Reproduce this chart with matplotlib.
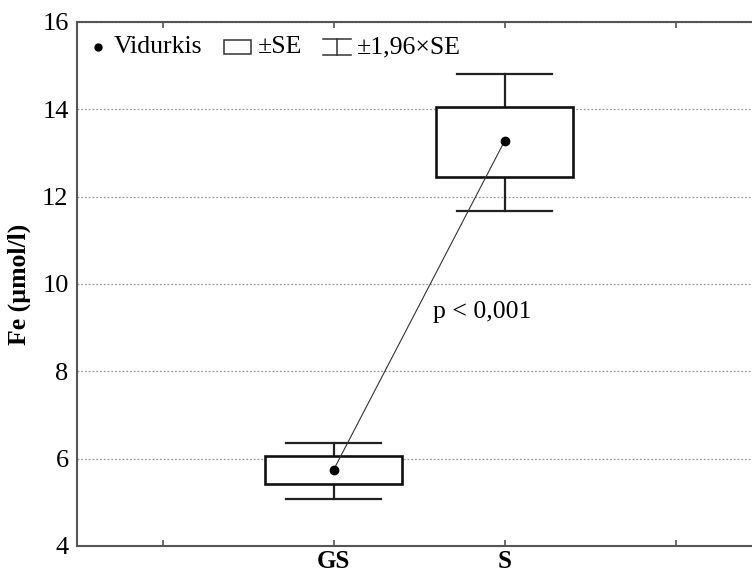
import matplotlib
matplotlib.use("Agg")
import matplotlib.pyplot as plt
from matplotlib.patches import Rectangle
from matplotlib.lines import Line2D

plt.rcParams["font.family"] = ["Liberation Serif", "DejaVu Serif"]

# group values (Fe, umol/l)
groups = ["GS", "S"]
means = [5.74, 13.27]
se_low = [5.42, 12.44]
se_high = [6.06, 14.05]
ci_low = [5.08, 11.67]
ci_high = [6.37, 14.82]
p_label = "p < 0,001"

fig = plt.figure(figsize=(7.52, 5.74), dpi=100)
ax = fig.add_axes([77 / 752, 28 / 574, 684 / 752, 524 / 574])

pos = [1, 2]
box_w = 0.8
cap_w = 0.56
for x, m, lo, hi, clo, chi in zip(pos, means, se_low, se_high, ci_low, ci_high):
    ax.plot([x, x], [hi, chi], color="#222222", lw=1.6, zorder=3)
    ax.plot([x, x], [clo, lo], color="#222222", lw=1.6, zorder=3)
    ax.plot([x - cap_w / 2, x + cap_w / 2], [chi, chi], color="#222222", lw=1.6, zorder=3)
    ax.plot([x - cap_w / 2, x + cap_w / 2], [clo, clo], color="#222222", lw=1.6, zorder=3)
    ax.add_patch(Rectangle((x - box_w / 2, lo), box_w, hi - lo, facecolor="white",
                           edgecolor="#111111", lw=1.9, zorder=4))

ax.plot(pos, means, color="#333333", lw=0.8, zorder=5)
ax.plot(pos, means, "o", color="black", ms=6, zorder=6)
ax.text(1.58, 9.35, p_label, fontsize=18.5, ha="left", va="center", zorder=7)

ax.set_xlim(-0.5, 3.5)
ax.set_ylim(4, 16)
ax.set_xticks([0, 1, 2, 3])
ax.set_xticklabels(["", "GS", "S", ""], fontsize=18, fontweight="bold")
ax.set_yticks(range(4, 17, 2))
ax.tick_params(axis="y", labelsize=19, direction="in", length=0, pad=6)
ax.tick_params(axis="x", direction="in", top=True, length=4, width=1.2,
               color="#555555", pad=3)
ax.yaxis.grid(True, linestyle=(0, (1.5, 1.5)), color="#999999", lw=0.9)
ax.set_axisbelow(True)
ax.set_ylabel("Fe (µmol/l)", fontsize=18.5, fontweight="bold", labelpad=8)
for side in ["left", "bottom", "top"]:
    ax.spines[side].set_color("#555555")
    ax.spines[side].set_linewidth(1.5)
ax.spines["right"].set_visible(False)

# legend drawn in axes fraction, as in the original figure
ly = 0.952
ax.plot([0.031], [ly], "o", color="black", ms=5, transform=ax.transAxes, clip_on=False)
ax.text(0.053, ly, "Vidurkis", fontsize=18.5, va="center", transform=ax.transAxes)
ax.add_patch(Rectangle((0.215, ly - 0.014), 0.040, 0.028, facecolor="white",
                       edgecolor="#333333", lw=1.1, transform=ax.transAxes))
ax.text(0.264, ly, "±SE", fontsize=18.5, va="center", transform=ax.transAxes)
wx0, wx1 = 0.360, 0.400
wm = (wx0 + wx1) / 2
ax.add_line(Line2D([wx0, wx1], [ly + 0.015, ly + 0.015], color="#333333", lw=1.1,
                   transform=ax.transAxes))
ax.add_line(Line2D([wx0, wx1], [ly - 0.015, ly - 0.015], color="#333333", lw=1.1,
                   transform=ax.transAxes))
ax.add_line(Line2D([wm, wm], [ly - 0.015, ly + 0.015], color="#333333", lw=1.1,
                   transform=ax.transAxes))
ax.text(0.409, ly, "±1,96×SE", fontsize=18.5, va="center", transform=ax.transAxes)

fig.savefig("out.png", dpi=100)
